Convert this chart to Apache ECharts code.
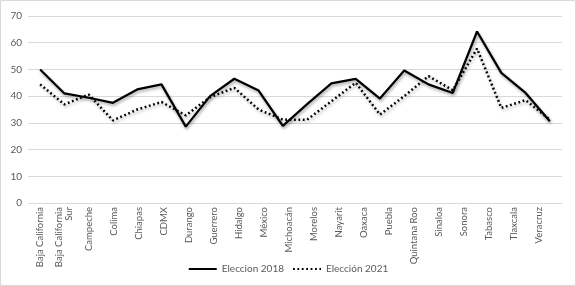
<!DOCTYPE html>
<html>
<head>
<meta charset="utf-8">
<script src="https://cdn.jsdelivr.net/npm/echarts@6/dist/echarts.min.js"></script>
<style>
html,body{margin:0;padding:0;background:#fff;}
#chart{width:576px;height:286px;}
</style>
</head>
<body>
<div id="chart"></div>
<script>
var states = ["Baja California","Baja California\nSur","Campeche","Colima","Chiapas","CDMX","Durango","Guerrero","Hidalgo","México","Michoacán","Morelos","Nayarit","Oaxaca","Puebla","Quintana Roo","Sinaloa","Sonora","Tabasco","Tlaxcala","Veracruz"];
var pointIndex = ["1","2","3","4","5","6","7","8","9","10","11","12","13","14","15","16","17","18","19","20","21","22"];
var eleccion2018 = [50.0,41.0,39.4,37.5,42.5,44.4,28.6,40.0,46.5,42.1,28.9,37.0,44.8,46.5,39.1,49.6,44.4,41.2,64.2,48.7,41.2,30.6];
var eleccion2021 = [44.4,36.9,40.6,30.9,35.0,37.8,32.8,39.6,43.1,35.0,31.2,31.2,38.1,45.0,33.1,40.0,47.5,42.2,57.8,35.6,38.5,31.2];
var yTicks = {min:0, max:70, interval:10};

var FONT = "Lato";
var chart = echarts.init(document.getElementById('chart'), null, {renderer:'canvas'});
chart.setOption({
  animation:false,
  backgroundColor:'#ffffff',
  graphic:[{type:'rect', shape:{x:0.5,y:0.5,width:575,height:285}, style:{fill:'none', stroke:'#d9d9d9', lineWidth:1}}],
  grid:[
    {left:28, right:14, top:16, bottom:83},
    {left:27, right:25, top:16, bottom:83}
  ],
  legend:{
    bottom:7, left:'center', itemWidth:28, itemHeight:8, itemGap:8,
    itemStyle:{opacity:0},
    textStyle:{color:'#595959', fontSize:10, fontFamily:FONT},
    data:['Eleccion 2018','Elección 2021']
  },
  xAxis:[
    {gridIndex:0, type:'category', data:pointIndex, boundaryGap:true, show:false},
    {gridIndex:1, type:'category', data:states, boundaryGap:true,
     axisLine:{show:false}, axisTick:{show:false},
     axisLabel:{rotate:90, interval:0, margin:4, color:'#595959', fontSize:9.5, fontFamily:FONT, lineHeight:10}}
  ],
  yAxis:[
    {gridIndex:0, type:'value', min:yTicks.min, max:yTicks.max, interval:yTicks.interval,
     axisLine:{show:false}, axisTick:{show:false},
     axisLabel:{color:'#595959', fontSize:10, fontFamily:FONT, margin:6},
     splitLine:{lineStyle:{color:'#d9d9d9', width:1}}},
    {gridIndex:1, type:'value', min:yTicks.min, max:yTicks.max, show:false, splitLine:{show:false}}
  ],
  series:[
    {name:'Eleccion 2018', type:'line', xAxisIndex:0, yAxisIndex:0, data:eleccion2018, symbol:'none',
     lineStyle:{color:'#000', width:2.25, shadowBlur:3, shadowColor:'rgba(0,0,0,0.35)', shadowOffsetX:1, shadowOffsetY:2},
     itemStyle:{color:'#000'}},
    {name:'Elección 2021', type:'line', xAxisIndex:0, yAxisIndex:0, data:eleccion2021, symbol:'none',
     lineStyle:{color:'#000', width:2.5, type:[1.8,2.6], shadowBlur:3, shadowColor:'rgba(0,0,0,0.35)', shadowOffsetX:1, shadowOffsetY:2},
     itemStyle:{color:'#000'}}
  ]
});
</script>
</body>
</html>
